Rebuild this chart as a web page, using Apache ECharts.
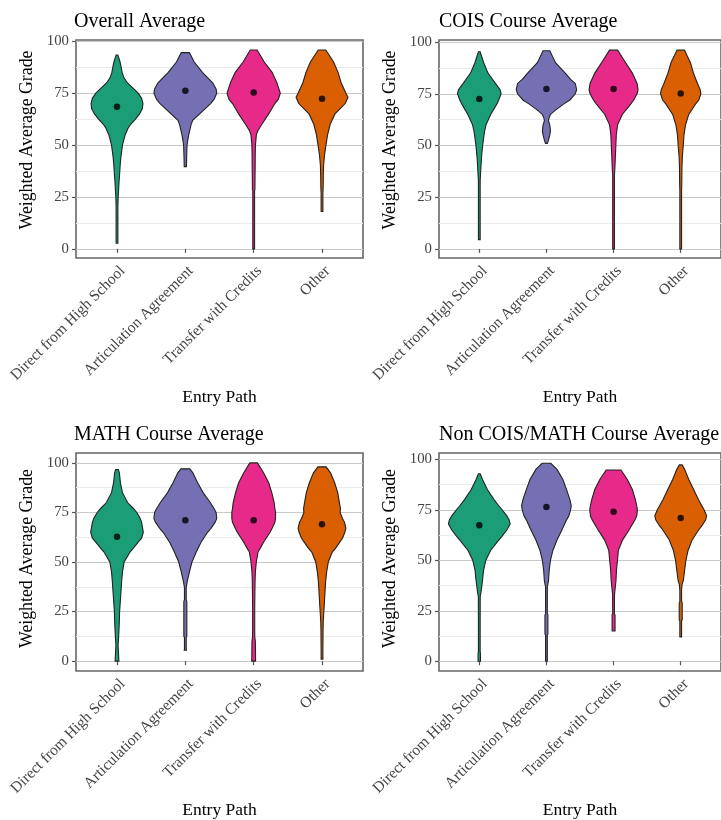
<!DOCTYPE html>
<html><head><meta charset="utf-8">
<script src="https://cdn.jsdelivr.net/npm/echarts@6/dist/echarts.min.js"></script>
<style>html,body{margin:0;padding:0;background:#fff}#c{width:721px;height:820px}</style>
</head><body><div id="c"></div><script>
// ---------- data ----------
const categories = ['Direct from High School', 'Articulation Agreement', 'Transfer with Credits', 'Other'];
const panelTitles = ['Overall Average', 'COIS Course Average', 'MATH Course Average', 'Non COIS/MATH Course Average'];
const yTicks = [0, 25, 50, 75, 100];
const yMinorTicks = [12.5, 37.5, 62.5, 87.5];
const xTicks = [1, 2, 3, 4];

// violin outlines: [grade, half width in category units]
const overallDirect = [[2.7,0.013],[10,0.013],[20,0.013],[25,0.017],[30,0.026],[33,0.031],[35,0.036],[40,0.046],[43,0.053],[45,0.06],[50,0.08],[55,0.12],[58,0.16],[60,0.2],[62.5,0.27],[65,0.33],[67.5,0.37],[70,0.38],[72.5,0.36],[75,0.31],[77.5,0.23],[80,0.15],[82.5,0.1],[85,0.075],[88,0.058],[90,0.045],[93.4,0.013]];
const overallArtic = [[39.6,0.016],[45,0.02],[50,0.025],[52,0.034],[55,0.05],[60,0.085],[62,0.11],[65,0.21],[70,0.37],[72,0.42],[75,0.46],[77,0.45],[80,0.40],[85,0.25],[90,0.13],[94.5,0.06]];
const overallTransfer = [[0,0.013],[10,0.013],[20,0.013],[28,0.013],[28.5,0.018],[35,0.02],[40,0.022],[45,0.023],[50,0.026],[55,0.04],[57,0.063],[60,0.12],[65,0.22],[70,0.31],[72,0.36],[75,0.39],[80,0.34],[85,0.27],[90,0.155],[95.8,0.05]];
const overallOther = [[18,0.013],[27,0.013],[28,0.015],[30,0.017],[35,0.019],[40,0.023],[45,0.036],[50,0.058],[55,0.082],[60,0.12],[65,0.19],[70,0.34],[73,0.38],[75,0.35],[80,0.28],[85,0.235],[90,0.17],[95.8,0.055]];

const coisDirect = [[4.5,0.013],[20,0.013],[33,0.013],[35,0.017],[40,0.025],[45,0.035],[50,0.05],[55,0.07],[57,0.08],[60,0.1],[65,0.17],[70,0.26],[72,0.29],[75,0.325],[77,0.31],[80,0.24],[85,0.13],[90,0.065],[95.3,0.013]];
const coisArtic = [[51,0.014],[52,0.025],[55,0.05],[57,0.06],[60,0.05],[62,0.03],[63,0.035],[65,0.06],[67,0.13],[70,0.255],[72,0.35],[75,0.43],[77,0.45],[80,0.43],[82,0.36],[85,0.28],[90,0.135],[95.8,0.05]];
const coisTransfer = [[0,0.013],[20,0.013],[36,0.013],[37,0.016],[40,0.021],[45,0.027],[50,0.034],[55,0.04],[60,0.06],[65,0.13],[70,0.255],[72,0.3],[75,0.35],[77,0.365],[80,0.35],[85,0.28],[90,0.18],[96.1,0.06]];
const coisOther = [[0,0.013],[20,0.013],[29,0.013],[30,0.015],[35,0.017],[40,0.019],[45,0.025],[50,0.038],[55,0.048],[60,0.072],[65,0.12],[70,0.22],[72,0.27],[75,0.3],[77,0.29],[80,0.25],[85,0.19],[90,0.145],[96.1,0.055]];

const mathDirect = [[0,0.028],[5,0.02],[8,0.016],[10,0.02],[15,0.028],[20,0.034],[25,0.038],[30,0.048],[35,0.058],[40,0.068],[45,0.08],[50,0.105],[55,0.19],[57,0.24],[60,0.31],[62,0.36],[65,0.385],[67,0.375],[70,0.36],[72,0.34],[75,0.29],[77,0.24],[80,0.155],[85,0.08],[90,0.05],[95,0.035],[96.6,0.02]];
const mathArtic = [[5.5,0.016],[6,0.013],[12,0.013],[12.5,0.022],[30,0.022],[31,0.013],[37,0.013],[38,0.017],[40,0.027],[45,0.06],[50,0.097],[55,0.16],[60,0.23],[65,0.325],[67,0.375],[70,0.435],[72,0.46],[75,0.45],[77,0.42],[80,0.365],[85,0.26],[90,0.18],[95,0.11],[97,0.065]];
const mathTransfer = [[0,0.028],[10,0.025],[12,0.017],[15,0.015],[20,0.015],[25,0.015],[30,0.016],[35,0.018],[40,0.02],[45,0.025],[50,0.039],[55,0.063],[57,0.097],[60,0.145],[65,0.24],[67,0.27],[70,0.31],[72,0.32],[75,0.32],[77,0.31],[80,0.3],[85,0.265],[90,0.22],[95,0.145],[100,0.055]];
const mathOther = [[1,0.013],[3,0.013],[5,0.013],[10,0.014],[15,0.015],[20,0.018],[25,0.027],[30,0.036],[35,0.044],[40,0.053],[45,0.068],[50,0.092],[55,0.15],[57,0.2],[60,0.26],[62,0.3],[65,0.335],[67,0.35],[70,0.33],[72,0.3],[75,0.265],[77,0.27],[80,0.255],[85,0.23],[90,0.185],[95,0.125],[98,0.06]];

const otherDirect = [[0,0.018],[4,0.018],[4.5,0.013],[20,0.013],[32,0.014],[35,0.029],[40,0.048],[45,0.063],[50,0.097],[55,0.17],[60,0.29],[62,0.34],[65,0.41],[68,0.46],[70,0.445],[72,0.41],[75,0.34],[77,0.29],[80,0.22],[85,0.12],[90,0.048],[92.8,0.013]];
const otherArtic = [[0,0.013],[13,0.013],[13.5,0.022],[23,0.022],[23.5,0.013],[37,0.013],[38,0.02],[40,0.031],[45,0.041],[50,0.06],[55,0.097],[60,0.157],[65,0.23],[70,0.3],[72,0.335],[75,0.36],[77,0.37],[80,0.35],[85,0.3],[90,0.245],[95,0.157],[98,0.065]];
const otherTransfer = [[15,0.022],[23,0.022],[23.5,0.013],[33,0.014],[35,0.02],[40,0.036],[45,0.043],[50,0.058],[55,0.072],[57,0.097],[60,0.133],[65,0.23],[70,0.32],[72,0.345],[75,0.355],[77,0.345],[80,0.325],[85,0.28],[90,0.205],[94.7,0.11]];
const otherOther = [[12,0.013],[20,0.013],[20.5,0.022],[29,0.022],[29.5,0.013],[35,0.013],[38,0.02],[40,0.039],[45,0.058],[50,0.077],[55,0.11],[60,0.17],[65,0.266],[67,0.314],[70,0.372],[72,0.386],[75,0.348],[77,0.314],[80,0.265],[85,0.193],[90,0.12],[95,0.058],[97.2,0.02]];

// mean points
const overallMeans = [68.5, 76.1, 75.3, 72.3];
const coisMeans = [72.5, 77.3, 77.3, 75.1];
const mathMeans = [62.8, 71.1, 71.1, 69.0];
const otherMeans = [67.3, 76.4, 74.0, 70.9];

// y ranges of each panel (with the plot's padding)
const yRanges = [[-4.4, 100.6], [-4.4, 101], [-5, 105], [-4.8, 103.1]];

// ---------- layout / style ----------
const colors = ['#1B9E77', '#7570B3', '#E7298A', '#D95F02'];
const FONT = 'Liberation Serif';
const grids = [
  {left: 76, top: 40, width: 287, height: 218},
  {left: 439, top: 40, width: 288, height: 218},
  {left: 76, top: 453, width: 287, height: 219},
  {left: 439, top: 453, width: 288, height: 219}
];
const titlePos = [[74, 12], [439, 12], [74, 425], [439, 425]];
const yNameShift = [18, 18, 7, 7];

const panels = [
  {profiles: [overallDirect, overallArtic, overallTransfer, overallOther], means: overallMeans},
  {profiles: [coisDirect, coisArtic, coisTransfer, coisOther], means: coisMeans},
  {profiles: [mathDirect, mathArtic, mathTransfer, mathOther], means: mathMeans},
  {profiles: [otherDirect, otherArtic, otherTransfer, otherOther], means: otherMeans}
];

const option = {animation: false, backgroundColor: '#fff', title: [], grid: [], xAxis: [], yAxis: [], series: []};

panels.forEach((p, k) => {
  option.title.push({text: panelTitles[k], left: titlePos[k][0], top: titlePos[k][1], padding: 0,
    textStyle: {fontFamily: FONT, fontSize: 20, fontWeight: 'normal', color: '#000'}});
  option.grid.push(Object.assign({show: true, borderColor: '#666666', borderWidth: 1.6, backgroundColor: 'transparent', containLabel: false}, grids[k]));
  option.xAxis.push({
    type: 'value', gridIndex: k, min: 0.4, max: 4.6,
    axisLine: {show: false}, splitLine: {show: false},
    axisTick: {show: true, customValues: xTicks, length: 4, lineStyle: {color: '#555555', width: 1.2}},
    axisLabel: {customValues: xTicks, rotate: 45, margin: 5, verticalAlign: 'top', fontFamily: FONT, fontSize: 15.5, color: '#444',
      formatter: v => categories[Math.round(v) - 1]},
    name: 'Entry Path', nameLocation: 'middle', nameGap: 130,
    nameTextStyle: {fontFamily: FONT, fontSize: 17.5, color: '#000'}
  });
  option.yAxis.push({
    type: 'value', gridIndex: k, min: yRanges[k][0], max: yRanges[k][1],
    axisLine: {show: false},
    axisTick: {show: true, customValues: yTicks, length: 4, lineStyle: {color: '#555555', width: 1.2}},
    axisLabel: {customValues: yTicks, margin: 7, fontFamily: FONT, fontSize: 14.8, color: '#444'},
    splitLine: {show: true, lineStyle: {color: '#c8c8c8', width: 1}},
    name: 'Weighted Average Grade', nameLocation: 'middle', nameGap: 40,
    nameTextStyle: {fontFamily: FONT, fontSize: 17.8, color: '#000', padding: [0, 0, 0, yNameShift[k]]}
  });
  option.yAxis.push({
    type: 'value', gridIndex: k, min: yRanges[k][0], max: yRanges[k][1],
    axisLine: {show: false}, axisLabel: {show: false},
    axisTick: {show: false, customValues: yMinorTicks},
    splitLine: {show: true, lineStyle: {color: '#ebebeb', width: 1}}
  });
  const profs = p.profiles;
  option.series.push({
    type: 'custom', xAxisIndex: k, yAxisIndex: 2 * k, z: 3,
    data: categories.map((c, i) => [i + 1, p.means[i]]),
    renderItem: function (params, api) {
      const c = api.value(0);
      const prof = profs[params.dataIndex];
      const right = prof.map(q => api.coord([c + q[1], q[0]]));
      const left = prof.slice().reverse().map(q => api.coord([c - q[1], q[0]]));
      return {type: 'polygon', shape: {points: right.concat(left)},
        style: {fill: colors[params.dataIndex], stroke: '#222222', lineWidth: 1.1}};
    }
  });
  option.series.push({
    type: 'scatter', xAxisIndex: k, yAxisIndex: 2 * k, z: 5,
    symbol: 'circle', symbolSize: 6.5, itemStyle: {color: '#000'},
    data: p.means.map((m, i) => [i + 1, m])
  });
});

const chart = echarts.init(document.getElementById('c'), null, {renderer: 'canvas'});
chart.setOption(option);
</script></body></html>
